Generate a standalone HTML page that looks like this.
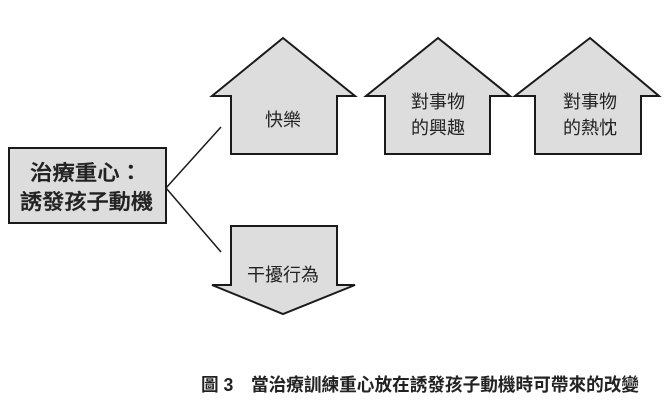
<!DOCTYPE html>
<html><head><meta charset="utf-8"><style>
html,body{margin:0;padding:0;background:#fff;}
svg{display:block;}
text{font-family:"Liberation Sans","Noto Sans CJK TC",sans-serif;fill:#222;}
</style></head><body>
<svg width="672" height="406" viewBox="0 0 672 406" xmlns="http://www.w3.org/2000/svg">
<g fill="#dddddd" stroke="#1a1a1a" stroke-width="2" stroke-linejoin="miter">
<polygon points="283,38 355,96 337,96 337,154 231,154 231,96 212,96"/>
<polygon points="438,38 510,96 490,96 490,154 385,154 385,96 366,96"/>
<polygon points="590,38 659,96 641,96 641,154 535,154 535,96 515,96"/>
<polygon points="231,226 337,226 337,285 355,285 283,314 212,285 231,285"/>
<rect x="9" y="148" width="157" height="75"/>
</g>
<g stroke="#1a1a1a" stroke-width="1.5" fill="none">
<line x1="166" y1="188" x2="221" y2="127"/>
<line x1="166" y1="188" x2="221" y2="252"/>
</g>
<g font-size="18" text-anchor="middle">
<text x="283" y="126">快樂</text>
<text x="438" y="108">對事物</text>
<text x="438" y="134">的興趣</text>
<text x="590" y="108">對事物</text>
<text x="590" y="134">的熱忱</text>
<text x="283" y="281">干擾行為</text>
</g>
<g font-size="21" font-weight="500" stroke="#222" stroke-width="0.4">
<text x="30" y="180" textLength="112" lengthAdjust="spacingAndGlyphs">治療重心：</text>
<text x="20" y="209" textLength="133" lengthAdjust="spacingAndGlyphs">誘發孩子動機</text>
</g>
<text x="201" y="391" font-size="18" font-weight="bold" textLength="438" lengthAdjust="spacingAndGlyphs">圖 3　當治療訓練重心放在誘發孩子動機時可帶來的改變</text>
</svg>
</body></html>
